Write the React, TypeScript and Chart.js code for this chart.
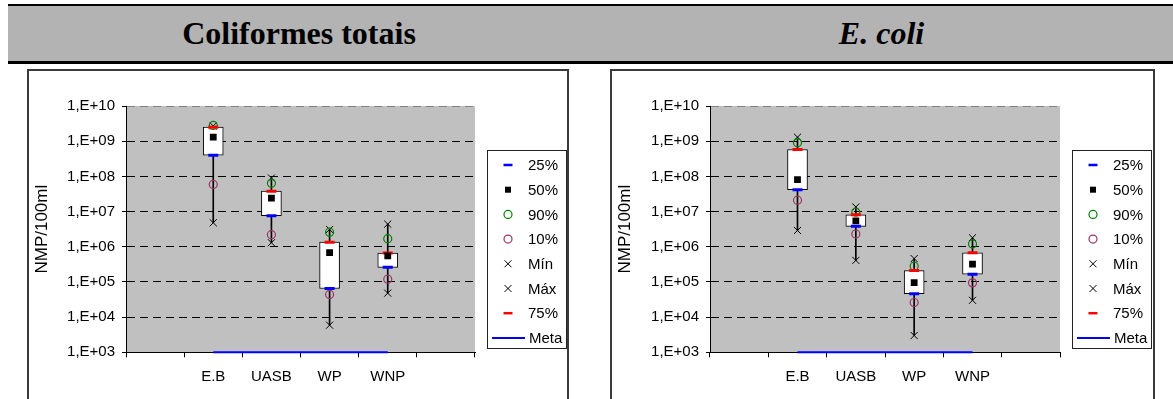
import React, { useEffect, useRef } from "react";
import { Chart, registerables } from "chart.js";

Chart.register(...registerables);

// ---------- data ----------
const categories = ["", "E.B", "UASB", "WP", "WNP", ""];
const yExponents = [3, 4, 5, 6, 7, 8, 9, 10];
const legendLabels = ["25%", "50%", "90%", "10%", "Mín", "Máx", "75%", "Meta"];
const headerTitles = ["Coliformes totais", "E. coli"];
const yAxisTitle = "NMP/100ml";

// Coliformes totais
const ctP25 = [null, 4.0e8, 7.6e6, 6.5e4, 2.6e5, null];
const ctP50 = [null, 1.3e9, 2.4e7, 6.8e5, 5.5e5, null];
const ctP75 = [null, 2.5e9, 3.8e7, 1.35e6, 6.6e5, null];
const ctP90 = [null, 2.8e9, 6.4e7, 2.6e6, 1.7e6, null];
const ctP10 = [null, 5.9e7, 2.2e6, 4.4e4, 1.2e5, null];
const ctMin = [null, 4.8e6, 1.3e6, 5.9e3, 4.8e4, null];
const ctMax = [null, 2.7e9, 9.0e7, 3.1e6, 4.4e6, null];

// E. coli
const ecP25 = [null, 4.2e7, 3.8e6, 4.6e4, 1.65e5, null];
const ecP50 = [null, 8.1e7, 5.4e6, 9.5e4, 3.2e5, null];
const ecP75 = [null, 5.8e8, 8.1e6, 2.1e5, 6.7e5, null];
const ecP90 = [null, 9.1e8, 9.6e6, 2.8e5, 1.2e6, null];
const ecP10 = [null, 2.1e7, 2.3e6, 2.6e4, 9.4e4, null];
const ecMin = [null, 2.9e6, 4.1e5, 3.0e3, 3.0e4, null];
const ecMax = [null, 1.3e9, 1.35e7, 4.6e5, 1.8e6, null];

// Meta (target) line
const metaValues = [null, 1e3, 1e3, 1e3, 1e3, null];

type Series = {
  p25: (number | null)[];
  p50: (number | null)[];
  p75: (number | null)[];
  p90: (number | null)[];
  p10: (number | null)[];
  min: (number | null)[];
  max: (number | null)[];
};

const coliformes: Series = { p25: ctP25, p50: ctP50, p75: ctP75, p90: ctP90, p10: ctP10, min: ctMin, max: ctMax };
const ecoli: Series = { p25: ecP25, p50: ecP50, p75: ecP75, p90: ecP90, p10: ecP10, min: ecMin, max: ecMax };

// ---------- styles ----------
const SANS = '"Liberation Sans", Arial, sans-serif';
const BLUE = "#0000FF";
const RED = "#FF0000";
const GREEN = "#008000";
const PLUM = "#993366";
const PLOT_BG = "#C0C0C0";

const plotBgPlugin = {
  id: "plotBg",
  beforeDraw(chart: any) {
    const { ctx, chartArea: a } = chart;
    ctx.save();
    ctx.fillStyle = PLOT_BG;
    ctx.fillRect(a.left, a.top, a.right - a.left, a.bottom - a.top);
    ctx.restore();
  },
};

const boxLegendPlugin = {
  id: "boxLegend",
  afterDraw(chart: any) {
    const { ctx, chartArea: a } = chart;
    const left = Math.round(a.right + 12);
    const top = Math.round(a.top + 44);
    const w = 79;
    const h = 198;
    const rowH = 24.7;
    ctx.save();
    ctx.fillStyle = "#fff";
    ctx.fillRect(left, top, w, h);
    ctx.strokeStyle = "#222";
    ctx.lineWidth = 1;
    ctx.strokeRect(left + 0.5, top + 0.5, w, h);
    const sx = left + 21;
    ctx.font = `15px ${SANS}`;
    ctx.textBaseline = "middle";
    ctx.textAlign = "left";
    legendLabels.forEach((lab, i) => {
      const y = top + 15 + i * rowH;
      ctx.save();
      if (lab === "25%" || lab === "75%") {
        ctx.strokeStyle = lab === "25%" ? BLUE : RED;
        ctx.lineWidth = 2.5;
        ctx.beginPath();
        ctx.moveTo(sx - 4.5, y);
        ctx.lineTo(sx + 4.5, y);
        ctx.stroke();
      } else if (lab === "50%") {
        ctx.fillStyle = "#000";
        ctx.fillRect(sx - 3, y - 3, 6, 6);
      } else if (lab === "90%" || lab === "10%") {
        ctx.strokeStyle = lab === "90%" ? GREEN : PLUM;
        ctx.lineWidth = 1.2;
        ctx.beginPath();
        ctx.arc(sx, y, 4, 0, Math.PI * 2);
        ctx.stroke();
      } else if (lab === "Mín" || lab === "Máx") {
        ctx.strokeStyle = "#000";
        ctx.lineWidth = 1;
        ctx.beginPath();
        ctx.moveTo(sx - 3.5, y - 3.5);
        ctx.lineTo(sx + 3.5, y + 3.5);
        ctx.moveTo(sx + 3.5, y - 3.5);
        ctx.lineTo(sx - 3.5, y + 3.5);
        ctx.stroke();
      } else if (lab === "Meta") {
        ctx.strokeStyle = BLUE;
        ctx.lineWidth = 2;
        ctx.beginPath();
        ctx.moveTo(left + 5, y);
        ctx.lineTo(left + 38, y);
        ctx.stroke();
      }
      ctx.restore();
      ctx.fillStyle = "#000";
      ctx.fillText(lab, lab === "Meta" ? left + 42 : left + 41, y + 1);
    });
    ctx.restore();
  },
};

function makeConfig(s: Series, yAxisWidth: number, padRight: number): any {
  const whisker = categories.map((_, i) => (s.min[i] == null ? null : [s.min[i], s.max[i]]));
  const box = categories.map((_, i) => (s.p25[i] == null ? null : [s.p25[i], s.p75[i]]));
  const pts = (label: string, data: any[], style: string, order: number, extra: any) => ({
    type: "line",
    label,
    data,
    showLine: false,
    pointStyle: style,
    order,
    ...extra,
  });
  return {
    type: "bar",
    data: {
      labels: categories,
      datasets: [
        { type: "bar", label: "whisker", data: whisker, backgroundColor: "#000", borderWidth: 0, barThickness: 1, grouped: false, order: 9 },
        { type: "bar", label: "box", data: box, backgroundColor: "#fff", borderColor: "#000", borderWidth: 1, borderSkipped: false, barThickness: 20, grouped: false, order: 8 },
        pts("50%", s.p50, "rect", 1, { pointRadius: 4.8, pointBackgroundColor: "#000", pointBorderColor: "#000", pointBorderWidth: 0, borderColor: "#000" }),
        pts("25%", s.p25, "line", 2, { pointRadius: 5, pointBorderColor: BLUE, borderColor: BLUE, pointBorderWidth: 3 }),
        pts("75%", s.p75, "line", 2, { pointRadius: 5, pointBorderColor: RED, borderColor: RED, pointBorderWidth: 3 }),
        pts("90%", s.p90, "circle", 3, { pointRadius: 4, pointBorderColor: GREEN, borderColor: GREEN, pointBackgroundColor: "rgba(0,0,0,0)", pointBorderWidth: 1.2 }),
        pts("10%", s.p10, "circle", 3, { pointRadius: 4, pointBorderColor: PLUM, borderColor: PLUM, pointBackgroundColor: "rgba(0,0,0,0)", pointBorderWidth: 1.2 }),
        pts("Mín", s.min, "crossRot", 3, { pointRadius: 5, pointBorderColor: "#000", borderColor: "#000", pointBorderWidth: 1 }),
        pts("Máx", s.max, "crossRot", 3, { pointRadius: 5, pointBorderColor: "#000", borderColor: "#000", pointBorderWidth: 1 }),
        { type: "line", label: "Meta", data: metaValues, borderColor: BLUE, borderWidth: 2, pointRadius: 0, clip: false, order: 0 },
      ],
    },
    options: {
      responsive: false,
      animation: false,
      events: [],
      layout: { padding: { left: 0, right: padRight, top: 35, bottom: 0 } },
      plugins: { legend: { display: false }, tooltip: { enabled: false } },
      scales: {
        x: {
          type: "category",
          offset: true,
          grid: { offset: true, drawOnChartArea: false, drawTicks: true, tickLength: 5, color: "#000", tickColor: "#000" },
          border: { color: "#000", width: 1 },
          ticks: { color: "#000", font: { family: SANS, size: 15 }, padding: 11, maxRotation: 0, autoSkip: false },
          afterFit: (sc: any) => {
            sc.height = 46.7;
          },
        },
        y: {
          type: "logarithmic",
          min: 1e3,
          max: 1e10,
          afterBuildTicks: (sc: any) => {
            sc.ticks = yExponents.map((e) => ({ value: Math.pow(10, e) }));
          },
          afterFit: (sc: any) => {
            sc.width = yAxisWidth;
          },
          grid: {
            color: (c: any) => (c.tick && c.tick.value >= 1e10 ? "#808080" : "#000"),
            tickColor: "#000",
            lineWidth: 1,
            tickLength: 4,
            drawTicks: true,
          },
          border: { color: "#000", width: 1, dash: [8, 5] },
          ticks: {
            color: "#000",
            font: { family: SANS, size: 15 },
            padding: 7,
            autoSkip: false,
            callback: (v: any) => {
              const e = Math.round(Math.log10(Number(v)));
              return `1,E+${e < 10 ? "0" + e : e}`;
            },
          },
          title: { display: true, text: yAxisTitle, color: "#000", font: { family: SANS, size: 17 }, padding: { top: 3, bottom: 0 } },
        },
      },
    },
    plugins: [plotBgPlugin, boxLegendPlugin],
  };
}

function BoxChart(props: { series: Series; left: number; width: number; yAxisWidth: number; padRight: number }) {
  const ref = useRef<HTMLCanvasElement>(null);
  useEffect(() => {
    const chart = new Chart(ref.current as HTMLCanvasElement, makeConfig(props.series, props.yAxisWidth, props.padRight));
    return () => chart.destroy();
  }, []);
  return (
    <canvas
      ref={ref}
      width={props.width}
      height={328}
      style={{ position: "absolute", left: props.left, top: 71, width: props.width, height: 328 }}
    />
  );
}

export default function App() {
  const titleStyle: React.CSSProperties = {
    position: "absolute",
    top: 6,
    height: 55,
    display: "flex",
    alignItems: "center",
    justifyContent: "center",
    fontFamily: '"Liberation Serif", "Times New Roman", serif',
    fontWeight: "bold",
    fontSize: 32,
    color: "#000",
    whiteSpace: "nowrap",
  };
  return (
    <div style={{ position: "absolute", left: 0, top: 0, width: 1173, height: 399, background: "#fff", overflow: "hidden" }}>
      <div style={{ position: "absolute", left: 8, top: 4, right: 0, height: 2, background: "#000" }} />
      <div style={{ position: "absolute", left: 8, top: 6, right: 0, height: 55, background: "#B3B3B3" }} />
      <div style={{ position: "absolute", left: 8, top: 61, right: 0, height: 3, background: "#000" }} />
      <div style={{ ...titleStyle, left: 8, width: 582 }}>{headerTitles[0]}</div>
      <div style={{ ...titleStyle, left: 590, width: 583, fontStyle: "italic" }}>{headerTitles[1]}</div>

      <div style={{ position: "absolute", left: 27, top: 69, width: 538, height: 400, border: "2px solid #3a3a3a" }} />
      <div style={{ position: "absolute", left: 610, top: 69, width: 541, height: 400, border: "2px solid #3a3a3a" }} />

      <BoxChart series={coliformes} left={29} width={538} yAxisWidth={97} padRight={92} />
      <BoxChart series={ecoli} left={612} width={541} yAxisWidth={98} padRight={93} />
    </div>
  );
}
